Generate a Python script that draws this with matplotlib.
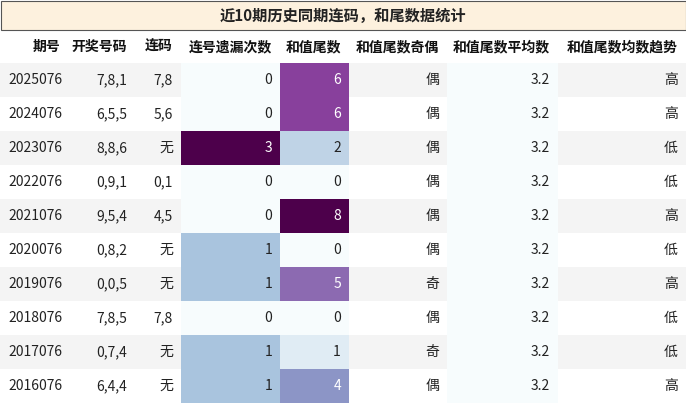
import numpy as np
import matplotlib.pyplot as plt
from matplotlib.patches import Rectangle
from matplotlib import cm, colors

plt.rcParams['font.family'] = ['Noto Sans CJK SC', 'DejaVu Sans']

title = '近10期历史同期连码，和尾数据统计'
headers = ['期号', '开奖号码', '连码', '连号遗漏次数', '和值尾数', '和值尾数奇偶', '和值尾数平均数', '和值尾数均数趋势']
issues = ['2025076', '2024076', '2023076', '2022076', '2021076', '2020076', '2019076', '2018076', '2017076', '2016076']
numbers = ['7,8,1', '6,5,5', '8,8,6', '0,9,1', '9,5,4', '0,8,2', '0,0,5', '7,8,5', '0,7,4', '6,4,4']
lianma = ['7,8', '5,6', '无', '0,1', '4,5', '无', '无', '7,8', '无', '无']
miss = [0, 0, 3, 0, 0, 1, 1, 0, 1, 1]
tail = [6, 6, 2, 0, 8, 0, 5, 0, 1, 4]
parity = ['偶', '偶', '偶', '偶', '偶', '偶', '奇', '偶', '奇', '偶']
avg = [3.2] * 10
trend = ['高', '高', '低', '低', '高', '低', '高', '低', '低', '高']

col_x = [0, 68, 135, 181, 280, 349, 447, 558, 686]
title_h, head_h, row_h = 29, 34, 34

fig = plt.figure(figsize=(6.86, 4.03), dpi=100)
ax = fig.add_axes([0, 0, 1, 1])
ax.set_xlim(0, 686)
ax.set_ylim(403, 0)
ax.axis('off')

cmap = cm.get_cmap('BuPu') if hasattr(cm, 'get_cmap') else plt.get_cmap('BuPu')
cmap = plt.get_cmap('BuPu')
norm_miss = colors.Normalize(min(miss), max(miss))
norm_tail = colors.Normalize(min(tail), max(tail))

# title bar
ax.add_patch(Rectangle((0.5, 0.5), 685, title_h, facecolor='#fdf1de', edgecolor='#555555', lw=0.8))
ax.text(343, title_h / 2 + 1, title, ha='center', va='center', fontsize=11, fontweight='bold', color='#222222')

# header
hy = title_h + head_h / 2 + 1
for j, h in enumerate(headers):
    ax.text(col_x[j + 1] - 8, hy, h, ha='right', va='center', fontsize=10, fontweight='bold', color='#111111')

y0 = title_h + head_h
for i in range(10):
    top = y0 + i * row_h
    bg = '#f4f4f4' if i % 2 == 0 else 'white'
    ax.add_patch(Rectangle((0, top), 686, row_h, facecolor=bg, edgecolor='none'))
    cells = [issues[i], numbers[i], lianma[i], str(miss[i]), str(tail[i]), parity[i], f'{avg[i]:.1f}', trend[i]]
    fills = [None, None, None, cmap(norm_miss(miss[i])), cmap(norm_tail(tail[i])), None, cmap(0.0), None]
    for j, txt in enumerate(cells):
        tc = '#222222'
        if fills[j] is not None:
            ax.add_patch(Rectangle((col_x[j], top), col_x[j + 1] - col_x[j], row_h, facecolor=fills[j], edgecolor='none'))
            r, g, b, _ = fills[j]
            if 0.299 * r + 0.587 * g + 0.114 * b < 0.6:
                tc = 'white'
        if j == 0:
            ax.text(col_x[0] + 8, top + row_h / 2, txt, ha='left', va='center', fontsize=10, color=tc)
        else:
            ax.text(col_x[j + 1] - 8, top + row_h / 2, txt, ha='right', va='center', fontsize=10, color=tc)

fig.savefig('out.png', dpi=100)
